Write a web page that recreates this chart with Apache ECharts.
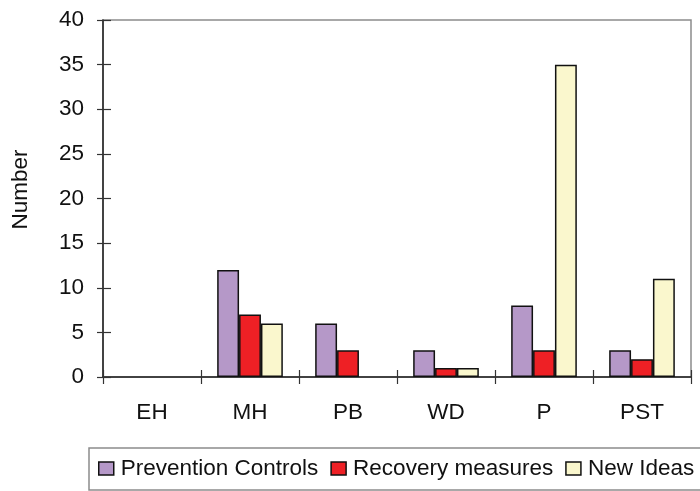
<!DOCTYPE html>
<html>
<head>
<meta charset="utf-8">
<script src="https://cdn.jsdelivr.net/npm/echarts@6/dist/echarts.min.js"></script>
<style>html,body{margin:0;padding:0;background:#fff}#c{width:700px;height:491px}</style>
</head>
<body>
<div id="c"></div>
<script>
var categories = ['EH', 'MH', 'PB', 'WD', 'P', 'PST'];
var preventionControls = [0, 12, 6, 3, 8, 3];
var recoveryMeasures = [0, 7, 3, 1, 3, 2];
var newIdeas = [0, 6, 0, 1, 35, 11];
var yTicks = { min: 0, max: 40, interval: 5 };

var FONT = 'Liberation Sans, Arial, sans-serif';
var FS = 22.5;
var chart = echarts.init(document.getElementById('c'), null, { renderer: 'canvas' });

function bar(name, data, color) {
  return {
    name: name, type: 'bar',
    // zero-height bars are not drawn (no border stub on the axis), as in the reference
    data: data.map(function (v) { return v === 0 ? { value: 0, itemStyle: { borderWidth: 0 } } : v; }),
    xAxisIndex: 0, yAxisIndex: 0,
    barGap: '0%', barCategoryGap: '33%',
    itemStyle: { color: color, borderColor: '#111', borderWidth: 1.5 },
    emphasis: { disabled: true }
  };
}

chart.setOption({
  animation: false,
  grid: { left: 103, right: 9, top: 20, bottom: 114, show: true, borderColor: '#8c8c8c', borderWidth: 1.5, backgroundColor: 'transparent' },
  legend: {
    left: 89, top: 448, width: 680,
    orient: 'horizontal',
    padding: [9, 9, 10, 9],
    itemWidth: 15, itemHeight: 13, itemGap: 12,
    borderColor: '#8c8c8c', borderWidth: 1.5,
    icon: 'rect',
    itemStyle: { borderWidth: 1.5, borderColor: '#111' },
    textStyle: { fontFamily: FONT, fontSize: FS, color: '#111', padding: [0, 0, 0, 2] },
    data: ['Prevention Controls', 'Recovery measures', 'New Ideas']
  },
  xAxis: [{
    type: 'category', data: categories, position: 'bottom',
    axisLine: { lineStyle: { color: '#222', width: 1.5 } },
    axisTick: { show: true, inside: false, length: 7, lineStyle: { color: '#333', width: 1.2 } },
    axisLabel: { fontFamily: FONT, fontSize: FS, color: '#111', margin: 24 },
    splitLine: { show: false }
  }, {
    type: 'category', data: categories, position: 'bottom',
    axisLine: { show: false },
    axisTick: { show: true, inside: true, length: 7, lineStyle: { color: '#333', width: 1.2 } },
    axisLabel: { show: false },
    splitLine: { show: false }
  }],
  yAxis: [{
    type: 'value', min: yTicks.min, max: yTicks.max, interval: yTicks.interval,
    name: 'Number', nameLocation: 'middle', nameGap: 71, nameRotate: 90,
    nameTextStyle: { fontFamily: FONT, fontSize: FS, color: '#111', padding: [0, 0, 0, 18] },
    axisLine: { show: true, lineStyle: { color: '#222', width: 1.5 } },
    axisTick: { show: true, inside: false, length: 6, lineStyle: { color: '#333', width: 1.2 } },
    axisLabel: { fontFamily: FONT, fontSize: FS, color: '#111', margin: 19 },
    splitLine: { show: false }
  }, {
    type: 'value', min: yTicks.min, max: yTicks.max, interval: yTicks.interval, position: 'left',
    axisLine: { show: false },
    axisTick: { show: true, inside: true, length: 8, lineStyle: { color: '#333', width: 1.2 } },
    axisLabel: { show: false },
    splitLine: { show: false }
  }],
  series: [
    bar('Prevention Controls', preventionControls, '#b598c8'),
    bar('Recovery measures', recoveryMeasures, '#ee2025'),
    bar('New Ideas', newIdeas, '#faf7cd')
  ]
});
</script>
</body>
</html>
